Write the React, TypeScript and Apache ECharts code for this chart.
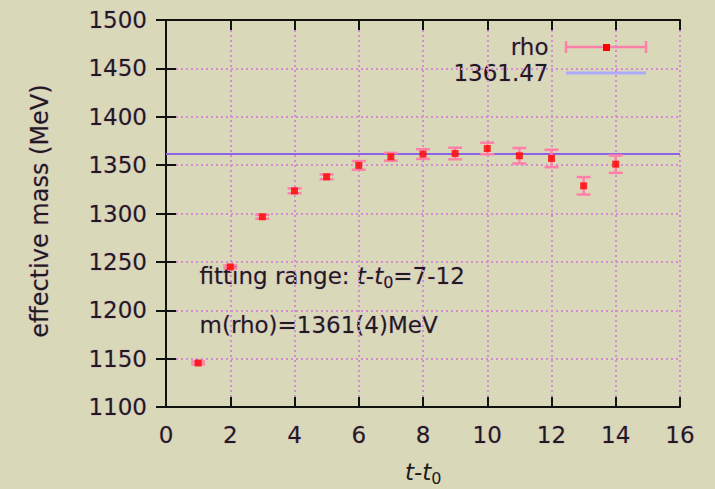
import React, { useEffect, useRef } from "react";
import * as echarts from "echarts";

const tValues = [1, 2, 3, 4, 5, 6, 7, 8, 9, 10, 11, 12, 13, 14];
const massValues = [1145.5, 1244.8, 1296.6, 1323.4, 1337.9, 1349.7, 1358.6, 1361.4, 1362.0, 1367.2, 1359.7, 1356.9, 1328.6, 1351.0];
const massErrors = [1.5, 1.5, 2, 2.5, 2.5, 4.5, 4, 5, 6, 6, 8, 9, 9, 9];
const fitValue = 1361.47;
const fitLabel = "1361.47";
const seriesName = "rho";

const FONT = "'DejaVu Sans', 'Liberation Sans', Arial, sans-serif";
const FS = 23;
const TEXT = "#1c1c1c";
const HALO = "rgba(215,140,215,0.55)";
const GRIDC = "#d58cd5";
const ERRC = "#ff80a8";
const DOTC = "#ff0000";
const LINEC = "#8e62e6";

export default function App() {
  const ref = useRef<HTMLDivElement>(null);
  useEffect(() => {
    if (!ref.current) return;
    const chart = echarts.init(ref.current, null, { renderer: "svg" });
    const errData = tValues.map((t, i) => [t, massValues[i], massErrors[i]]);
    const dotData = tValues.map((t, i) => [t, massValues[i]]);
    const axisLabel = {
      color: TEXT, fontSize: FS, fontFamily: FONT, textBorderColor: HALO, textBorderWidth: 1,
      formatter: (v: number) => String(v),
    };
    const tick = { show: true, inside: true, length: 10, lineStyle: { color: "#111", width: 2 } };
    const split = { show: true, lineStyle: { color: GRIDC, type: [2, 3] as any, width: 2 } };
    const richSub = {
      i: { fontStyle: "italic", fontSize: FS, fontFamily: FONT, fill: TEXT },
      s: { fontSize: 16, fontFamily: FONT, padding: [13, 0, 0, 0], fill: TEXT },
    };
    const option: any = {
      animation: false,
      backgroundColor: "#d9d8b9",
      grid: { left: 166, top: 20, width: 514, height: 387, containLabel: false },
      xAxis: [
        {
          type: "value", min: 0, max: 16, interval: 2,
          axisLine: { show: true, lineStyle: { color: "#111", width: 2 } },
          axisTick: tick, splitLine: split,
          axisLabel: { ...axisLabel, margin: 16 },
        },
        {
          type: "value", position: "top", min: 0, max: 16, interval: 2,
          axisLine: { show: true, lineStyle: { color: "#111", width: 2 } },
          axisTick: tick, splitLine: { show: false }, axisLabel: { show: false },
        },
      ],
      yAxis: [
        {
          type: "value", min: 1100, max: 1500, interval: 50,
          axisLine: { show: true, lineStyle: { color: "#111", width: 2 } },
          axisTick: tick, splitLine: split,
          axisLabel: { ...axisLabel, margin: 19 },
        },
        {
          type: "value", position: "right", min: 1100, max: 1500, interval: 50,
          axisLine: { show: true, lineStyle: { color: "#111", width: 2 } },
          axisTick: tick, splitLine: { show: false }, axisLabel: { show: false },
        },
      ],
      series: [
        {
          name: fitLabel, type: "line", data: [[0, fitValue], [16, fitValue]],
          symbol: "none", lineStyle: { color: LINEC, width: 2 }, z: 3,
        },
        {
          name: seriesName, type: "custom", data: errData, z: 4,
          renderItem: (params: any, api: any) => {
            const x = api.value(0), y = api.value(1), e = api.value(2);
            const lo = api.coord([x, y - e]);
            const hi = api.coord([x, y + e]);
            const w = 7;
            const style = { stroke: ERRC, lineWidth: 2.5, fill: null };
            return {
              type: "group",
              children: [
                { type: "line", shape: { x1: lo[0], y1: lo[1], x2: hi[0], y2: hi[1] }, style },
                { type: "line", shape: { x1: lo[0] - w, y1: lo[1], x2: lo[0] + w, y2: lo[1] }, style },
                { type: "line", shape: { x1: hi[0] - w, y1: hi[1], x2: hi[0] + w, y2: hi[1] }, style },
              ],
            };
          },
        },
        {
          name: seriesName + " value", type: "scatter", data: dotData, z: 5,
          symbol: "rect", symbolSize: 7, itemStyle: { color: DOTC },
        },
      ],
      graphic: [
        {
          type: "text", right: 715 - 549, top: 35,
          style: { text: seriesName, fill: TEXT, font: `${FS}px ${FONT}`, textAlign: "right", stroke: HALO, lineWidth: 1 },
        },
        { type: "line", shape: { x1: 566, y1: 47, x2: 646, y2: 47 }, style: { stroke: ERRC, lineWidth: 2.5 } },
        { type: "line", shape: { x1: 566, y1: 41, x2: 566, y2: 53 }, style: { stroke: ERRC, lineWidth: 2.5 } },
        { type: "line", shape: { x1: 646, y1: 41, x2: 646, y2: 53 }, style: { stroke: ERRC, lineWidth: 2.5 } },
        { type: "rect", shape: { x: 603, y: 44, width: 7, height: 7 }, style: { fill: DOTC } },
        {
          type: "text", right: 715 - 549, top: 61,
          style: { text: fitLabel, fill: TEXT, font: `${FS}px ${FONT}`, textAlign: "right", stroke: HALO, lineWidth: 1 },
        },
        { type: "line", shape: { x1: 566, y1: 73, x2: 646, y2: 73 }, style: { stroke: "#adaaff", lineWidth: 3 } },
        {
          type: "text", left: 199, top: 264,
          style: {
            text: "fitting range: {i|t}-{i|t}{s|0}=7-12",
            fill: TEXT, font: `${FS}px ${FONT}`, stroke: HALO, lineWidth: 1,
            rich: richSub,
          },
        },
        {
          type: "text", left: 199, top: 313,
          style: { text: "m(rho)=1361(4)MeV", fill: TEXT, font: `${FS}px ${FONT}`, stroke: HALO, lineWidth: 1 },
        },
        {
          type: "text", left: 405, top: 460,
          style: {
            text: "{i|t}-{i|t}{s|0}",
            fill: TEXT, font: `${FS}px ${FONT}`,
            rich: richSub,
          },
        },
        {
          type: "text", x: 40, y: 211, rotation: Math.PI / 2,
          style: {
            text: "effective mass (MeV)", fill: TEXT, font: `24px ${FONT}`,
            textAlign: "center", textVerticalAlign: "middle", stroke: HALO, lineWidth: 1,
          },
        },
      ],
    };
    chart.setOption(option);
    return () => chart.dispose();
  }, []);
  return (
    <div
      ref={ref}
      style={{ position: "fixed", left: 0, top: 0, width: 715, height: 489, background: "#d9d8b9" }}
    />
  );
}
